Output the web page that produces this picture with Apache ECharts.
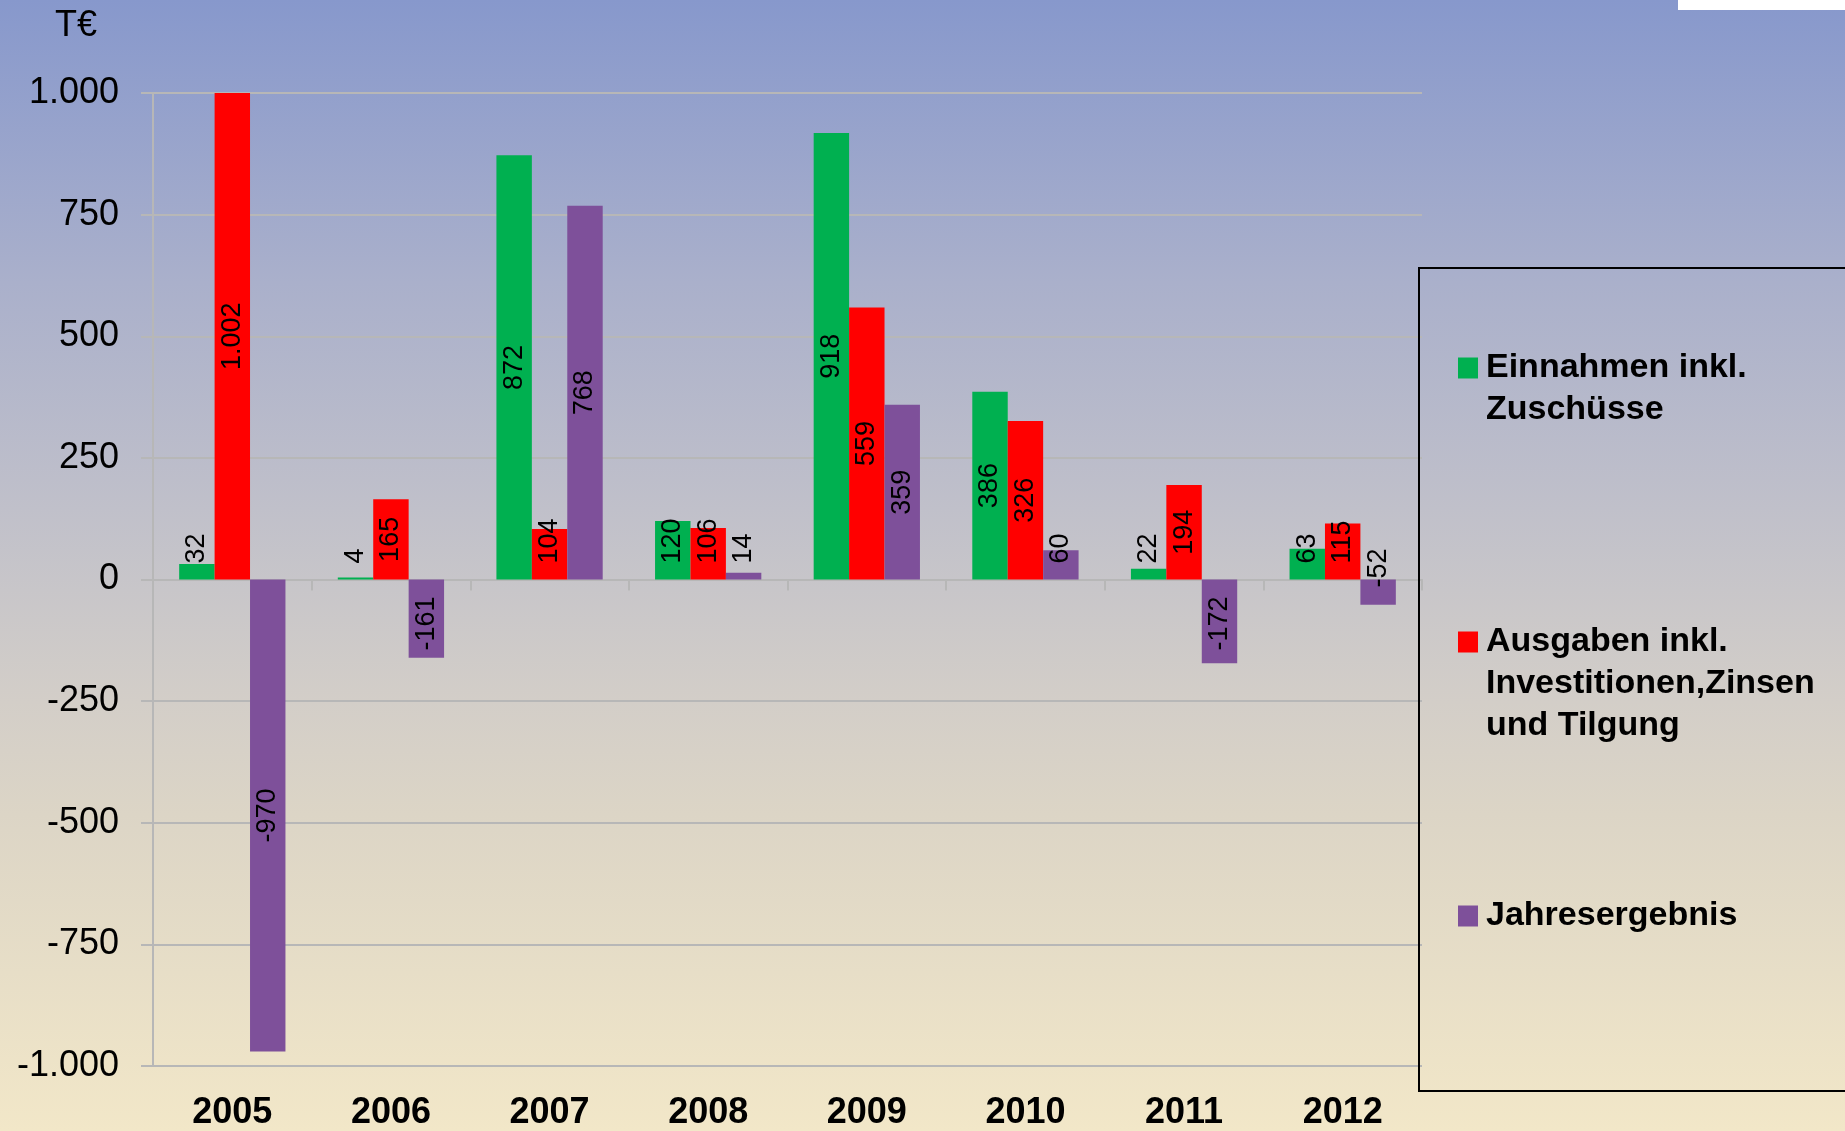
<!DOCTYPE html>
<html lang="de">
<head>
<meta charset="utf-8">
<title>Einnahmen, Ausgaben und Jahresergebnis 2005–2012</title>
<script src="https://cdn.jsdelivr.net/npm/echarts@6/dist/echarts.min.js"></script>
<style>
  html, body { margin: 0; padding: 0; width: 1845px; height: 1131px; overflow: hidden; }
  #chart { width: 1845px; height: 1131px; }
</style>
</head>
<body>
<div id="chart"></div>
<script>
// ---- data (T€) ----
const YEARS = ['2005', '2006', '2007', '2008', '2009', '2010', '2011', '2012'];
const EINNAHMEN = [32, 4, 872, 120, 918, 386, 22, 63];
const AUSGABEN = [1002, 165, 104, 106, 559, 326, 194, 115];
const JAHRESERGEBNIS = [-970, -161, 768, 14, 359, 60, -172, -52];

const SERIES_NAMES = [
  'Einnahmen inkl. Zuschüsse',
  'Ausgaben inkl. Investitionen,Zinsen und Tilgung',
  'Jahresergebnis'
];
// legend text, one entry per printed line
const LEGEND_LINES = [
  ['Einnahmen inkl.', 'Zuschüsse'],
  ['Ausgaben inkl.', 'Investitionen,Zinsen', 'und Tilgung'],
  ['Jahresergebnis']
];
const Y_MIN = -1000;
const Y_MAX = 1000;
const Y_STEP = 250;
const UNIT = 'T€';

// ---- styling ----
const FONT = '"Liberation Sans", Arial, Helvetica, sans-serif';
const COLORS = ['#00B050', '#FF0000', '#7E509A'];
const GRID_COLOR = '#b7b7b7';
const LABEL_SIZE = 27;
const LEGEND_TOPS = [347, 621, 895];

// German number format: 1.002, -1.000
function fmtDE(v) {
  const s = Math.abs(v).toString().replace(/\B(?=(\d{3})+(?!\d))/g, '.');
  return (v < 0 ? '-' : '') + s;
}

const chart = echarts.init(document.getElementById('chart'), null, { renderer: 'canvas' });

const seriesValues = [EINNAHMEN, AUSGABEN, JAHRESERGEBNIS];
const swatchKeys = ['g', 'r', 'p'];

const rich = {
  t: { fontFamily: FONT, fontSize: 34, fontWeight: 'bold', color: '#000', lineHeight: 42, padding: [0, 0, 0, 8] },
  i: { width: 20, height: 21, lineHeight: 42 }
};
swatchKeys.forEach((k, idx) => {
  rich[k] = { width: 20, height: 21, lineHeight: 42, backgroundColor: COLORS[idx] };
});

const legends = SERIES_NAMES.map((name, idx) => ({
  data: [name],
  left: 1453,
  top: LEGEND_TOPS[idx],
  orient: 'vertical',
  padding: 0,
  icon: 'none',
  itemWidth: 0,
  itemHeight: 14,
  selectedMode: false,
  formatter: () => LEGEND_LINES[idx]
    .map((line, li) => (li === 0 ? '{' + swatchKeys[idx] + '|}' : '{i|}') + '{t|' + line + '}')
    .join('\n'),
  textStyle: { fontFamily: FONT, fontSize: 34, fontWeight: 'bold', color: '#000', lineHeight: 42, rich: rich }
}));

const option = {
  animation: false,
  backgroundColor: {
    type: 'linear', x: 0, y: 0, x2: 0, y2: 1,
    colorStops: [
      { offset: 0, color: '#8798CC' },
      { offset: 0.25, color: '#AAB0CB' },
      { offset: 0.45, color: '#C0C0CA' },
      { offset: 0.62, color: '#D3CEC8' },
      { offset: 0.72, color: '#DCD5C6' },
      { offset: 1, color: '#F2E7C8' }
    ]
  },
  textStyle: { fontFamily: FONT },
  grid: { left: 153, right: 423, top: 93, bottom: 64, containLabel: false },
  legend: legends,
  xAxis: [
    {
      // year labels along the bottom edge
      type: 'category',
      data: YEARS,
      position: 'bottom',
      axisLine: { show: false, onZero: false },
      axisTick: { show: false },
      splitLine: { show: false },
      axisLabel: { color: '#000', fontFamily: FONT, fontSize: 36, fontWeight: 'bold', margin: 29 }
    },
    {
      // axis line and category ticks on the zero line
      type: 'category',
      data: YEARS,
      position: 'bottom',
      axisLine: { show: true, onZero: true, lineStyle: { color: GRID_COLOR, width: 2 } },
      axisTick: { show: true, length: 11, lineStyle: { color: GRID_COLOR, width: 2 } },
      axisLabel: { show: false },
      splitLine: { show: false }
    }
  ],
  yAxis: {
    type: 'value',
    min: Y_MIN,
    max: Y_MAX,
    interval: Y_STEP,
    name: UNIT,
    nameLocation: 'end',
    nameGap: 67,
    nameTextStyle: {
      color: '#000', fontFamily: FONT, fontSize: 36,
      align: 'right', verticalAlign: 'middle', padding: [0, 56, 0, 0]
    },
    axisLine: { show: true, lineStyle: { color: GRID_COLOR, width: 2 } },
    axisTick: { show: true, length: 12, lineStyle: { color: GRID_COLOR, width: 2 } },
    splitLine: { show: true, lineStyle: { color: GRID_COLOR, width: 2 } },
    axisLabel: { color: '#000', fontFamily: FONT, fontSize: 36, margin: 34, formatter: fmtDE }
  },
  series: SERIES_NAMES.map((name, idx) => ({
    name: name,
    type: 'bar',
    xAxisIndex: 0,
    yAxisIndex: 0,
    data: seriesValues[idx],
    barGap: '0%',
    barCategoryGap: '33%',
    itemStyle: { color: COLORS[idx] },
    label: {
      show: true,
      position: 'inside',
      rotate: 90,
      color: '#000',
      fontFamily: FONT,
      fontSize: LABEL_SIZE,
      textBorderWidth: 0,
      textShadowBlur: 0,
      formatter: p => fmtDE(p.value)
    }
  })),
  graphic: [
    {
      type: 'rect',
      z: 100,
      shape: { x: 1419, y: 268, width: 480, height: 823 },
      style: { fill: 'transparent', stroke: '#000', lineWidth: 2 }
    },
    {
      type: 'rect',
      z: 100,
      shape: { x: 1678, y: 0, width: 170, height: 10 },
      style: { fill: '#ffffff' }
    }
  ]
};

chart.setOption(option);

// Value labels sit centred on their bar; on short bars they are pushed
// clear of the zero line so the text stays readable.
const measureCtx = document.createElement('canvas').getContext('2d');
measureCtx.font = LABEL_SIZE + 'px ' + FONT;

// vertical shift on screen (negative = up)
function labelShift(v) {
  const zeroY = chart.convertToPixel({ yAxisIndex: 0 }, 0);
  const endY = chart.convertToPixel({ yAxisIndex: 0 }, v);
  const mid = (zeroY + endY) / 2;
  const len = measureCtx.measureText(fmtDE(v)).width;
  let target = mid;
  if (v >= 0) {
    target = Math.min(mid, zeroY - 16 - len / 2);
  } else if (Math.abs(endY - zeroY) < len) {
    target = zeroY + 8 - len / 2;
  } else {
    target = Math.max(mid, zeroY + 17 + len / 2);
  }
  return target - mid;
}

// the label offset is expressed in the rotated text frame, where +x points up
chart.setOption({
  series: seriesValues.map(values => ({
    data: values.map(v => ({ value: v, label: { offset: [-labelShift(v), 0] } }))
  }))
});
</script>
</body>
</html>
